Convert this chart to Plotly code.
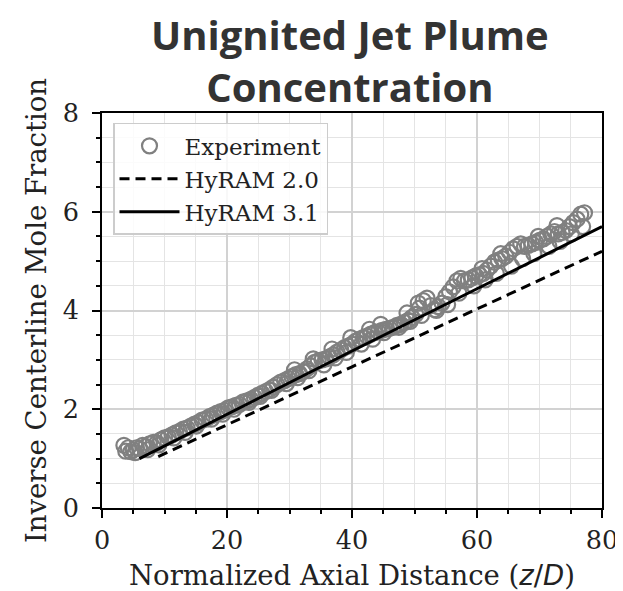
import plotly.graph_objects as go

# Experiment data
exp_x = [3.5, 3.8, 4.2, 4.6, 5.0, 5.5, 6.0, 6.5, 7.0, 7.6, 8.2, 8.8, 9.4, 10.0, 10.6, 11.2, 11.8, 12.4,
         13.0, 13.6, 14.2, 14.8, 15.4, 16.0, 16.6, 17.2, 17.8, 18.4, 19.0, 19.6, 20.2, 20.8, 21.4, 22.0,
         22.6, 23.2, 23.8, 24.4, 25.0, 25.6, 26.2, 26.8, 27.4, 28.0, 28.6, 29.2, 29.8, 30.4, 31.0, 31.6,
         32.2, 32.8, 33.4, 34.0, 34.6, 35.2, 35.8, 36.4, 37.0, 37.6, 38.2, 38.8, 39.4, 40.0, 40.6, 41.2,
         41.8, 42.4, 43.0, 43.6, 44.2, 44.8, 45.4, 46.0, 46.6, 47.2, 47.8, 48.4, 49.0, 49.6, 50.2, 50.8,
         51.4, 52.0, 52.6, 53.2, 53.8, 54.4, 55.0, 55.6, 56.2, 56.8, 57.4, 58.0, 58.6, 59.2, 59.8, 60.4,
         61.0, 61.6, 62.2, 62.8, 63.4, 64.0, 64.6, 65.2, 65.8, 66.4, 67.0, 67.6, 68.2, 68.8, 69.4, 70.0,
         70.6, 71.2, 71.8, 72.4, 73.0, 73.6, 74.2, 74.8, 75.4, 76.0, 76.6, 77.2,
         5.3, 7.3, 9.1, 11.5, 13.3, 15.1, 17.5, 19.3, 21.1, 23.5, 25.3, 27.1, 29.5, 31.3, 33.1, 35.5,
         37.3, 39.1, 41.5, 43.3, 45.1, 47.5, 49.3, 51.1, 53.5, 55.3, 57.1, 59.5, 61.3, 63.1, 65.5, 67.3,
         69.1, 71.5, 73.3, 75.1, 76.9,
         30.8, 33.8, 36.8, 39.8, 42.8, 44.6, 48.8, 50.6, 60.8, 63.8, 69.8, 72.8]
exp_y = [1.27, 1.15, 1.22, 1.14, 1.18, 1.22, 1.20, 1.27, 1.25, 1.30, 1.33, 1.32, 1.38, 1.42, 1.44, 1.48,
         1.52, 1.55, 1.60, 1.62, 1.66, 1.70, 1.73, 1.78, 1.80, 1.85, 1.88, 1.92, 1.95, 1.98, 2.03, 2.05,
         2.08, 2.10, 2.15, 2.17, 2.20, 2.24, 2.28, 2.32, 2.36, 2.40, 2.45, 2.50, 2.55, 2.58, 2.62, 2.66,
         2.70, 2.72, 2.76, 2.82, 2.88, 2.95, 2.98, 3.00, 3.02, 3.06, 3.10, 3.16, 3.20, 3.25, 3.28, 3.32,
         3.38, 3.42, 3.45, 3.48, 3.52, 3.55, 3.57, 3.60, 3.62, 3.64, 3.66, 3.70, 3.72, 3.76, 3.80, 3.86,
         3.92, 4.05, 4.20, 4.25, 4.10, 4.02, 4.08, 4.15, 4.28, 4.38, 4.48, 4.60, 4.65, 4.60, 4.62, 4.66,
         4.70, 4.72, 4.75, 4.82, 4.90, 4.98, 5.02, 5.05, 5.10, 5.18, 5.25, 5.30, 5.35, 5.30, 5.32, 5.35,
         5.38, 5.42, 5.45, 5.50, 5.55, 5.60, 5.55, 5.58, 5.62, 5.70, 5.78, 5.85, 5.95, 5.98,
         1.12, 1.18, 1.28, 1.42, 1.53, 1.66, 1.80, 1.90, 2.00, 2.14, 2.26, 2.38, 2.52, 2.64, 2.78, 2.90,
         3.04, 3.15, 3.32, 3.42, 3.55, 3.66, 3.78, 3.90, 4.00, 4.12, 4.35, 4.50, 4.62, 4.75, 4.90, 5.05,
         5.15, 5.30, 5.40, 5.55, 5.70,
         2.80, 3.02, 3.22, 3.45, 3.62, 3.72, 3.95, 4.15, 4.85, 5.15, 5.50, 5.72]

# HyRAM 2.0 model (dashed)
h20_x = [9.0, 20.0, 40.0, 60.0, 80.0]
h20_y = [1.04, 1.68, 2.86, 4.03, 5.20]

# HyRAM 3.1 model (solid)
h31_x = [6.0, 20.0, 40.0, 60.0, 80.0]
h31_y = [1.00, 1.90, 3.18, 4.44, 5.70]

x_ticks = [0, 20, 40, 60, 80]
y_ticks = [0, 2, 4, 6, 8]

SERIF = "DejaVu Serif"
TXT = "#222222"

fig = go.Figure()
fig.add_trace(go.Scatter(
    x=exp_x, y=exp_y, mode="markers", name="Experiment",
    marker=dict(symbol="circle-open", size=15, color="#808080", line=dict(width=2.2, color="#808080")),
))
fig.add_trace(go.Scatter(
    x=h20_x, y=h20_y, mode="lines", name="HyRAM 2.0",
    line=dict(color="black", width=3, dash="10px,6px"),
))
fig.add_trace(go.Scatter(
    x=h31_x, y=h31_y, mode="lines", name="HyRAM 3.1",
    line=dict(color="black", width=3),
))

axis_common = dict(
    showline=True, linecolor="black", linewidth=2, mirror=True,
    ticks="outside", ticklen=8, tickwidth=2, tickcolor="black",
    showgrid=True, gridcolor="#d2d2d2", gridwidth=1.5,
    zeroline=False, automargin=False,
    tickfont=dict(family=SERIF, size=25.5, color=TXT),
)

fig.update_xaxes(
    range=[0, 80], tickvals=x_ticks, ticktext=[str(v) for v in x_ticks],
    minor=dict(dtick=5, tick0=0, ticks="outside", ticklen=4, tickwidth=2, tickcolor="black",
               showgrid=True, gridcolor="#e4e4e4", gridwidth=1),
    title=dict(text='Normalized Axial Distance (<span style="font-family:DejaVu Sans"><i>z</i>/<i>D</i></span>)',
               font=dict(family=SERIF, size=27.5, color=TXT), standoff=12),
    **axis_common,
)
fig.update_yaxes(
    range=[0, 8], tickvals=y_ticks, ticktext=[str(v) for v in y_ticks],
    minor=dict(dtick=0.5, tick0=0, ticks="outside", ticklen=4, tickwidth=2, tickcolor="black",
               showgrid=True, gridcolor="#e4e4e4", gridwidth=1),
    title=dict(text="Inverse Centerline Mole Fraction",
               font=dict(family=SERIF, size=27.5, color=TXT), standoff=8),
    ticklabelstandoff=8,
    **axis_common,
)

# The page body adds an 8px offset, so the figure is sized 8px smaller
fig.update_layout(
    width=615, height=583,
    margin=dict(l=94, r=21, t=105, b=83),
    paper_bgcolor="white", plot_bgcolor="white",
    legend=dict(x=0.022, y=0.975, xanchor="left", yanchor="top",
                bgcolor="rgba(255,255,255,0.85)", bordercolor="#cccccc", borderwidth=1.5,
                font=dict(family=SERIF, size=23, color=TXT), tracegroupgap=0, itemwidth=60),
    showlegend=True,
)

fig.add_annotation(
    text="<b>Unignited Jet Plume<br>Concentration</b>",
    font=dict(family="Open Sans", size=40, color="#333333"),
    xref="paper", yref="paper", x=0.495, xanchor="center",
    y=1 + (113 - 6) / 395, yanchor="top", showarrow=False, align="center", borderpad=0,
)

fig.write_html("out.html")
